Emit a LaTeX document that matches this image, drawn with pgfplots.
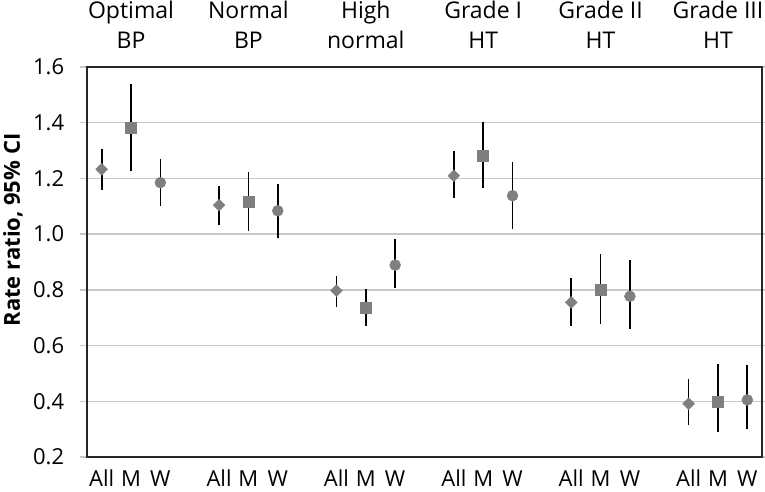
\documentclass[border=0pt]{standalone}
\usepackage{fontspec}
\setmainfont{Open Sans}
\usepackage{pgfplots}
\usepackage{pgfplotstable}
\pgfplotsset{compat=1.18}
\definecolor{mk}{HTML}{7F7F7F}
\definecolor{gridc}{HTML}{C8C8C8}
\definecolor{frame}{HTML}{262626}

% x  y  ep  em
\pgfplotstableread{
x  y     ep    em
0  1.233 0.074 0.075
4  1.104 0.070 0.072
8  0.797 0.053 0.057
12 1.210 0.088 0.081
16 0.755 0.088 0.084
20 0.391 0.090 0.075
}\tall
\pgfplotstableread{
x  y     ep    em
1  1.382 0.156 0.154
5  1.118 0.105 0.106
9  0.737 0.066 0.067
13 1.283 0.121 0.116
17 0.800 0.130 0.124
21 0.399 0.134 0.110
}\tmen
\pgfplotstableread{
x  y     ep    em
2  1.185 0.084 0.083
6  1.084 0.097 0.097
10 0.889 0.093 0.083
14 1.138 0.120 0.121
18 0.777 0.130 0.116
22 0.405 0.125 0.105
}\twomen

\begin{document}
\fontsize{23}{30}\selectfont
\begin{tikzpicture}
\useasboundingbox (-87pt,-34pt) rectangle (678pt,457pt);
\begin{axis}[
  scale only axis, width=675pt, height=390pt,
  xmin=-0.5, xmax=22.5, ymin=0.2, ymax=1.6,
  xtick={0,1,2,4,5,6,8,9,10,12,13,14,16,17,18,20,21,22},
  xticklabels={All,M,W,All,M,W,All,M,W,All,M,W,All,M,W,All,M,W},
  ytick={0.2,0.4,...,1.6},
  yticklabel style={/pgf/number format/fixed, /pgf/number format/fixed zerofill, /pgf/number format/precision=1, xshift=-8pt},
  /pgf/number format/assume math mode=true,
  tick label style={font=\fontsize{22}{26}\selectfont},
  xticklabel style={anchor=base, inner sep=0.5pt, yshift=-22pt},
  xtick style={draw=none},
  ytick style={draw=gridc, line width=1.4pt},
  tick align=outside, major tick length=7pt,
  ymajorgrids, grid style={gridc, line width=1.4pt},
  axis line style={frame, line width=1.4pt},
  ylabel={\bfseries Rate ratio, 95\% CI},
  ylabel style={at={(axis description cs:0,0.582)}, anchor=center, yshift=74pt, font=\fontsize{22}{26}\selectfont},
  clip=false,
  error bars/y dir=both, error bars/y explicit,
  error bars/error mark=none,
  error bars/error bar style={black, line width=1.7pt},
]
\addplot[only marks, mark=square*, mark size=4.2pt, mark options={fill=mk, draw=mk, rotate=45}]
  table[x=x, y=y, y error plus=ep, y error minus=em] {\tall};
\addplot[only marks, mark=square*, mark size=5.5pt, mark options={fill=mk, draw=mk}]
  table[x=x, y=y, y error plus=ep, y error minus=em] {\tmen};
\addplot[only marks, mark=*, mark size=5.5pt, mark options={fill=mk, draw=mk}]
  table[x=x, y=y, y error plus=ep, y error minus=em] {\twomen};
\node[anchor=south, inner sep=0pt, align=center, yshift=18pt] at (axis cs:1,1.6) {Optimal\\BP};
\node[anchor=south, inner sep=0pt, align=center, yshift=18pt] at (axis cs:5,1.6) {Normal\\BP};
\node[anchor=south, inner sep=0pt, align=center, yshift=18pt] at (axis cs:9,1.6) {High\\normal};
\node[anchor=south, inner sep=0pt, align=center, yshift=18pt] at (axis cs:13,1.6) {Grade I\\HT};
\node[anchor=south, inner sep=0pt, align=center, yshift=18pt] at (axis cs:17,1.6) {Grade II\\HT};
\node[anchor=south, inner sep=0pt, align=center, yshift=18pt] at (axis cs:21,1.6) {Grade III\\HT};
\end{axis}
\end{tikzpicture}
\end{document}
